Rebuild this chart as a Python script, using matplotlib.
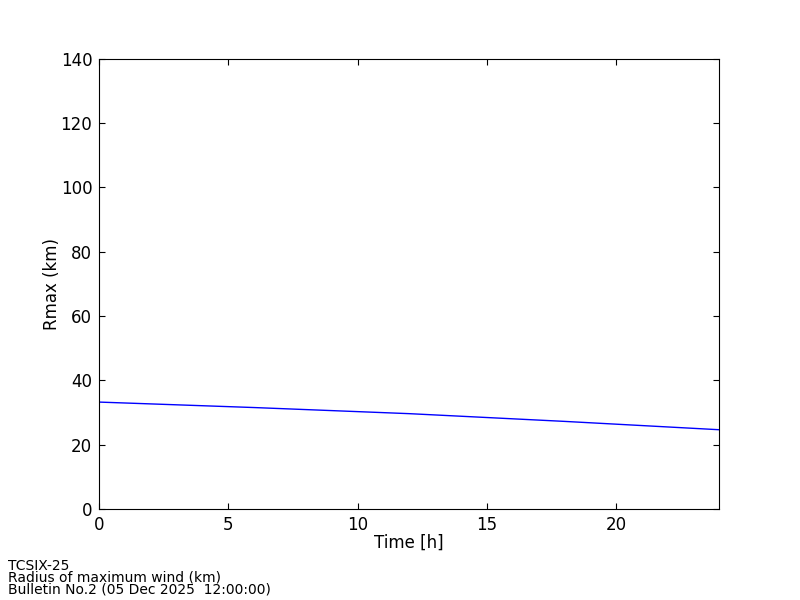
import matplotlib
matplotlib.use("Agg")
import matplotlib.pyplot as plt

# forecast time (h) and radius of maximum wind (km)
hours = [0, 6, 12, 18, 24]
rmax = [33.2, 31.5, 29.6, 27.2, 24.6]

footer = ["TCSIX-25",
          "Radius of maximum wind (km)",
          "Bulletin No.2 (05 Dec 2025  12:00:00)"]

fig = plt.figure(figsize=(8, 6), dpi=100)
ax = fig.add_axes([0.124, 0.152, 0.775, 0.75])
ax.plot(hours, rmax, color="blue", linewidth=1)

ax.set_xlim(0, 24)
ax.set_ylim(0, 140)
ax.set_xticks([0, 5, 10, 15, 20])
ax.set_yticks(range(0, 141, 20))
ax.tick_params(direction="in", top=True, right=True, length=4,
               labelsize=12, pad=5)
ax.set_xlabel("Time [h]", fontsize=12, labelpad=0)
ax.set_ylabel("Rmax (km)", fontsize=12, labelpad=0)

for i, line in enumerate(footer):
    fig.text(0.01, 0.057 - i * 0.02, line, fontsize=10, va="center")

fig.savefig("out.png", dpi=100)
